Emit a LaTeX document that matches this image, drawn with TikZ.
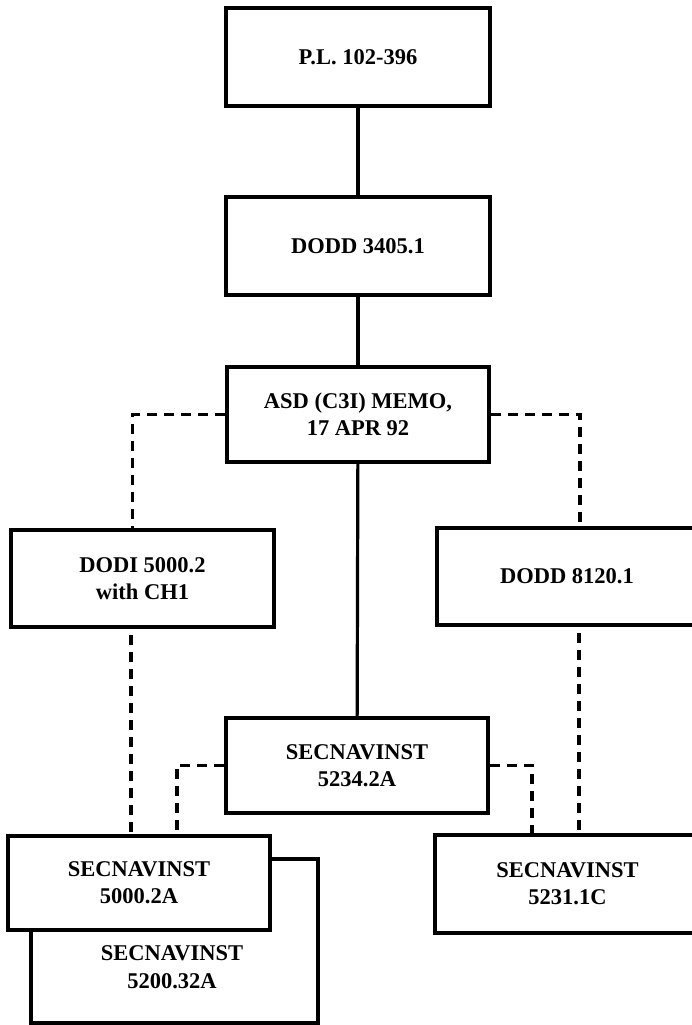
\documentclass[tikz,border=0pt]{standalone}
\usepackage{fontspec}
\setmainfont{Liberation Serif}
\begin{document}
\begin{tikzpicture}[x=1pt,y=-1pt,
  docbox/.style={draw, line width=3.8pt, fill=white, inner sep=0pt, align=center,
    font=\fontsize{22.5}{27}\selectfont\bfseries},
  plaintxt/.style={inner sep=0pt, align=center, font=\fontsize{22.5}{28}\selectfont\bfseries},
  solidl/.style={line width=3.2pt},
  dashl/.style={line width=3.6pt, dash pattern=on 10pt off 7pt}]
\useasboundingbox (0,0) rectangle (692,1025);
% back box of the stack
\node[docbox, minimum width=287pt, minimum height=164pt] (s5200) at (174.5,941) {};
\node[plaintxt] (s5200t) at (172,967) {SECNAVINST\\5200.32A};
% boxes
\node[docbox, minimum width=264pt, minimum height=98pt] (pl) at (358,57) {P.L. 102-396};
\node[docbox, minimum width=264pt, minimum height=98pt] (d3405) at (358,246) {DODD 3405.1};
\node[docbox, minimum width=262pt, minimum height=95pt] (asd) at (358,414.5) {ASD (C3I) MEMO,\\17 APR 92};
\node[docbox, minimum width=263pt, minimum height=97pt] (dodi) at (142.5,578.5) {DODI 5000.2\\with CH1};
\node[docbox, minimum width=260pt, minimum height=97pt] (d8120) at (567,576.5) {DODD 8120.1};
\node[docbox, minimum width=262pt, minimum height=95pt] (s5234) at (357,765.5) {SECNAVINST\\5234.2A};
\node[docbox, minimum width=262pt, minimum height=94pt] (s5000) at (139,883) {SECNAVINST\\5000.2A};
\node[docbox, minimum width=265pt, minimum height=98pt] (s5231) at (567.5,884) {SECNAVINST\\5231.1C};
% solid connectors
\draw[solidl] (pl) -- (d3405);
\draw[solidl] (d3405) -- (asd);
\draw[solidl] (asd) -- (s5234);
% dashed connectors
\draw[dashl] (asd.west) -| ([xshift=-10pt]dodi.north);
\draw[dashl] (asd.east) -| ([xshift=13pt]d8120.north);
\coordinate (c1) at ([xshift=-11.5pt]dodi.south);
\draw[dashl] ([yshift=-6pt]c1) -- (c1 |- s5000.north);
\draw[dashl] (s5234.west) -| ([xshift=38pt]s5000.north);
\draw[dashl] (s5234.east) -| ([xshift=-35.5pt]s5231.north);
\coordinate (c3) at ([xshift=12pt]d8120.south);
\draw[dashl] ([yshift=-6pt]c3) -- (c3 |- s5231.north);
\end{tikzpicture}
\end{document}
